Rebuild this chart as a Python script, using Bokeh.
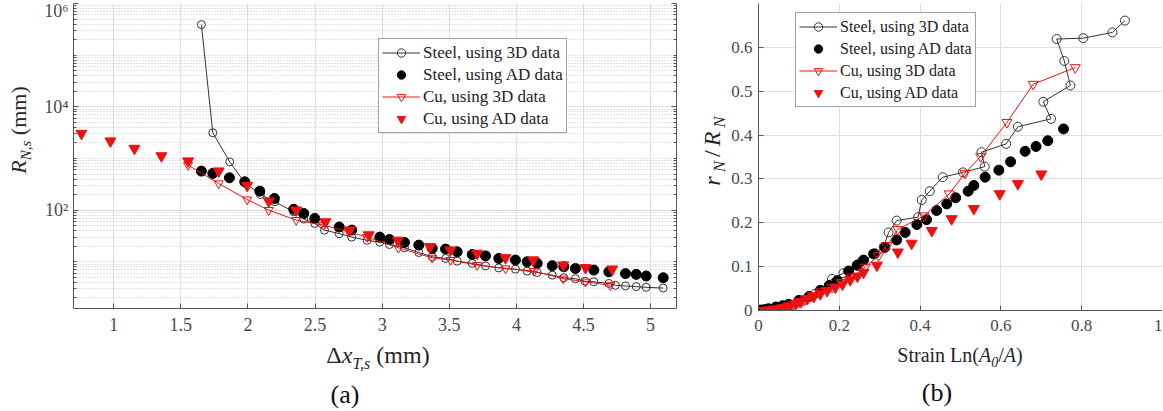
from bokeh.plotting import figure
from bokeh.layouts import row, column
from bokeh.models import (Range1d, FixedTicker, CustomJSTickFormatter, Legend,
                          LegendItem, LogAxis, Div)
from bokeh.embed import file_html
from bokeh.resources import INLINE

# ---------------- data: panel (a) ----------------
a_steel3d_x = [1.653, 1.738, 1.864, 1.976, 2.093, 2.20, 2.341, 2.416, 2.498, 2.57,
               2.68, 2.773, 2.888, 2.982, 3.054, 3.166, 3.273, 3.373, 3.472, 3.559,
               3.671, 3.77, 3.869, 3.993, 4.08, 4.155, 4.267, 4.353, 4.44, 4.51,
               4.577, 4.689, 4.738, 4.813, 4.893, 4.967, 5.094]
a_steel3d_y = [3.9e5, 3140, 860, 338, 200, 145, 93, 67, 55, 41,
               35, 30, 26, 24, 21.6, 18.6, 15.1, 12.5, 11.6, 10.3,
               9.3, 8.3, 7.6, 7.2, 6.6, 6.2, 5.5, 4.9, 4.7, 4.2,
               4.1, 3.8, 3.5, 3.4, 3.3, 3.2, 3.1]

a_steelad_x = [1.653, 1.738, 1.862, 1.976, 2.088, 2.197, 2.341, 2.416, 2.498, 2.68,
               2.773, 2.982, 3.054, 3.166, 3.273, 3.373, 3.472, 3.559, 3.671, 3.77,
               3.869, 3.993, 4.08, 4.155, 4.267, 4.353, 4.44, 4.577, 4.689, 4.813,
               4.893, 4.967, 5.094]
a_steelad_y = [569, 512, 422, 353, 233, 168, 104, 86, 69, 47,
               41, 30, 27, 23.6, 21, 18.1, 17.6, 15.6, 13.8, 13.0,
               11.6, 10.8, 10.0, 9.3, 8.4, 8.0, 7.4, 6.9, 6.4, 5.9,
               5.7, 5.3, 4.9]

a_cu3d_x = [1.554, 1.782, 1.994, 2.155, 2.359, 2.565, 2.751, 2.888, 3.121, 3.373,
            3.509, 3.708, 3.919, 4.13, 4.349, 4.515, 4.701]
a_cu3d_y = [743, 327, 160, 100, 64, 51, 38, 30, 18.6, 11.9,
            10.8, 8.6, 7.4, 6.6, 4.7, 4.1, 3.5]

a_cuad_x = [0.759, 0.975, 1.154, 1.355, 1.554, 1.782, 1.994, 2.155, 2.359, 2.577,
            2.756, 2.9, 3.116, 3.355, 3.509, 3.708, 3.919, 4.125, 4.349, 4.515, 4.714]
a_cuad_y = [3040, 2170, 1560, 1120, 890, 569, 300, 149, 100, 59,
            41, 33, 26, 19.5, 16.8, 14.5, 11.9, 10.8, 8.6, 7.7, 7.2]

a_xticks = [1, 1.5, 2, 2.5, 3, 3.5, 4, 4.5, 5]
a_yticks = [1e2, 1e4, 1e6]

# ---------------- data: panel (b) ----------------
b_steel3d_x = [0.0, 0.02, 0.05, 0.08, 0.11, 0.14, 0.182, 0.21, 0.25, 0.29,
               0.31, 0.322, 0.342, 0.395, 0.404, 0.424, 0.456, 0.506, 0.56, 0.552,
               0.613, 0.642, 0.724, 0.705, 0.772, 0.757, 0.738, 0.804, 0.876, 0.907]
b_steel3d_y = [0.0, 0.0, 0.005, 0.012, 0.022, 0.038, 0.072, 0.085, 0.108, 0.13,
               0.145, 0.178, 0.205, 0.213, 0.252, 0.272, 0.304, 0.315, 0.328, 0.361,
               0.38, 0.419, 0.437, 0.476, 0.513, 0.569, 0.619, 0.621, 0.634, 0.661]

b_steelad_x = [0.0, 0.005, 0.015, 0.025, 0.043, 0.06, 0.075, 0.1, 0.125, 0.153,
               0.175, 0.195, 0.223, 0.244, 0.26, 0.285, 0.313, 0.342, 0.363, 0.392,
               0.416, 0.441, 0.466, 0.488, 0.519, 0.533, 0.561, 0.595, 0.624, 0.66,
               0.687, 0.716, 0.755]
b_steelad_y = [0.0, 0.001, 0.002, 0.004, 0.008, 0.011, 0.014, 0.023, 0.032, 0.046,
               0.057, 0.068, 0.09, 0.103, 0.115, 0.129, 0.144, 0.161, 0.178, 0.196,
               0.207, 0.228, 0.243, 0.257, 0.272, 0.285, 0.304, 0.32, 0.339, 0.363,
               0.374, 0.387, 0.414]

b_cu3d_x = [0.02, 0.034, 0.05, 0.067, 0.085, 0.1, 0.115, 0.133, 0.155, 0.182,
            0.205, 0.231, 0.264, 0.297, 0.318, 0.345, 0.41, 0.472, 0.511, 0.55,
            0.615, 0.68, 0.784]
b_cu3d_y = [0.0, 0.002, 0.004, 0.008, 0.013, 0.019, 0.026, 0.034, 0.043, 0.053,
            0.064, 0.076, 0.099, 0.125, 0.148, 0.185, 0.216, 0.266, 0.313, 0.351,
            0.429, 0.516, 0.554]

b_cuad_x = [0.015, 0.026, 0.04, 0.059, 0.075, 0.092, 0.105, 0.121, 0.137, 0.153,
            0.17, 0.19, 0.208, 0.227, 0.245, 0.26, 0.293, 0.345, 0.379, 0.429,
            0.478, 0.533, 0.597, 0.642, 0.70]
b_cuad_y = [0.0, 0.001, 0.003, 0.006, 0.01, 0.015, 0.02, 0.027, 0.032, 0.038,
            0.045, 0.053, 0.06, 0.07, 0.078, 0.087, 0.103, 0.133, 0.153, 0.182,
            0.209, 0.232, 0.266, 0.289, 0.311]

b_xticks = [0, 0.2, 0.4, 0.6, 0.8, 1.0]
b_yticks = [0, 0.1, 0.2, 0.3, 0.4, 0.5, 0.6]

labels = ["Steel, using 3D data", "Steel, using AD data",
          "Cu, using 3D data", "Cu, using AD data"]

# ---------------- style ----------------
SERIF = "Liberation Serif"
AX = "#555555"
TICKTXT = "#4a4a4a"
GRID = "#dedede"
RED = "#ee1111"
DARK = "#333333"
TOP_H = 340          # height of the plot row
BOT_H = 411 - TOP_H  # height of the caption strip


def style_axis(ax, size):
    ax.axis_line_color = AX
    ax.major_tick_line_color = AX
    ax.minor_tick_line_color = AX
    ax.major_tick_in = 5
    ax.major_tick_out = 0
    ax.minor_tick_in = 3
    ax.minor_tick_out = 0
    ax.major_label_text_font = SERIF
    ax.major_label_text_font_size = f"{size}px"
    ax.major_label_text_color = TICKTXT


def make_legend(p, rends, loc, fsize):
    items = [LegendItem(label=l, renderers=r) for l, r in zip(labels, rends)]
    leg = Legend(items=items, location=loc, padding=3, spacing=1, margin=0,
                 glyph_height=21, label_height=21, glyph_width=38,
                 label_standoff=3, label_text_font=SERIF,
                 label_text_font_size=f"{fsize}px", label_text_color="#222222",
                 border_line_color="#444444", border_line_width=1.5,
                 background_fill_color="white", background_fill_alpha=1.0)
    p.add_layout(leg)


def sub(t, size, shift):
    return (f'<span style="font-size:{size}px;font-style:italic;position:relative;'
            f'top:{shift}px">{t}</span>')


def lab(cx, cy, html, size, rotate=False, w=240, h=34, spacing=0, color="#262626"):
    rot = "transform:rotate(-90deg);transform-origin:50% 50%;" if rotate else ""
    return (f'<div style="position:absolute;left:{cx - w / 2}px;top:{cy - h / 2}px;'
            f'width:{w}px;height:{h}px;line-height:{h}px;text-align:center;'
            f'white-space:nowrap;font-family:\'{SERIF}\';font-size:{size}px;'
            f'letter-spacing:{spacing}px;color:{color};{rot}">{html}</div>')


def box(w, h, inner):
    return (f'<div style="position:relative;width:{w}px;height:{h}px;'
            f'overflow:visible">{inner}</div>')


# ---------------- panel (a) ----------------
p1 = figure(frame_width=603, frame_height=305, min_border_left=35,
            min_border_right=8, min_border_top=2, min_border_bottom=TOP_H - 307,
            y_axis_type="log", x_range=Range1d(0.70, 5.193),
            y_range=Range1d(1.245, 1e6), output_backend="svg",
            toolbar_location=None)
p1.outline_line_color = None

ytick_a = FixedTicker(ticks=a_yticks,
                      minor_ticks=[k * 10 ** e for e in range(0, 6) for k in range(1, 10)
                                   if not (k == 1 and e % 2 == 0)])
p1.yaxis.ticker = ytick_a
p1.yaxis.formatter = CustomJSTickFormatter(code="""
const e = Math.round(Math.log10(tick));
const s = {'0':'\u2070','1':'\u00b9','2':'\u00b2','3':'\u00b3','4':'\u2074','5':'\u2075','6':'\u2076'};
return '10' + s[String(e)];
""")
p1.xaxis.ticker = FixedTicker(ticks=a_xticks)
style_axis(p1.xaxis[0], 18)
style_axis(p1.yaxis[0], 18)
p1.xaxis.minor_tick_line_color = None
p1.yaxis.major_label_standoff = 5
p1.xaxis.major_label_standoff = 9

rax = LogAxis(ticker=ytick_a, formatter=CustomJSTickFormatter(code="return '';"),
              major_label_standoff=0)
style_axis(rax, 10)
p1.add_layout(rax, "right")

p1.xgrid.ticker = FixedTicker(ticks=a_xticks)
p1.ygrid.ticker = ytick_a
for g in (p1.xgrid[0], p1.ygrid[0]):
    g.grid_line_color = GRID
    g.grid_line_width = 1
p1.ygrid.minor_grid_line_color = "#bdbdbd"
p1.ygrid.minor_grid_line_dash = "1 2"
p1.ygrid.minor_grid_line_alpha = 0.8

r1l = p1.line(a_steel3d_x, a_steel3d_y, line_color=DARK, line_width=1)
r1s = p1.scatter(a_steel3d_x, a_steel3d_y, marker="circle", size=8,
                 line_color=DARK, fill_color=None, line_width=1)
r2 = p1.scatter(a_steelad_x, a_steelad_y, marker="circle", size=10,
                fill_color="black", line_color="black")
r3l = p1.line(a_cu3d_x, a_cu3d_y, line_color=RED, line_width=1)
r3s = p1.scatter(a_cu3d_x, a_cu3d_y, marker="inverted_triangle", size=9,
                 line_color=RED, fill_color=None, line_width=1)
r4 = p1.scatter(a_cuad_x, a_cuad_y, marker="inverted_triangle", size=11,
                fill_color=RED, line_color=RED)
make_legend(p1, [[r1l, r1s], [r2], [r3l, r3s], [r4]], (305, 175), 17)

# ---------------- panel (b) ----------------
p2 = figure(frame_width=404, frame_height=307, min_border_left=30,
            min_border_right=0, min_border_top=3, min_border_bottom=TOP_H - 310,
            x_range=Range1d(0, 1.0), y_range=Range1d(0, 0.7),
            output_backend="svg", toolbar_location=None)
p2.outline_line_color = None
p2.xaxis.ticker = FixedTicker(ticks=b_xticks)
p2.yaxis.ticker = FixedTicker(ticks=b_yticks)
style_axis(p2.xaxis[0], 17)
style_axis(p2.yaxis[0], 17)
p2.xaxis.minor_tick_line_color = None
p2.yaxis.minor_tick_line_color = None
p2.yaxis.major_label_standoff = 6
p2.xaxis.major_label_standoff = 9
p2.xgrid.ticker = FixedTicker(ticks=b_xticks)
p2.ygrid.ticker = FixedTicker(ticks=b_yticks)
for g in (p2.xgrid[0], p2.ygrid[0]):
    g.grid_line_color = GRID
    g.grid_line_width = 1

q1l = p2.line(b_steel3d_x, b_steel3d_y, line_color=DARK, line_width=1)
q1s = p2.scatter(b_steel3d_x, b_steel3d_y, marker="circle", size=9,
                 line_color=DARK, fill_color=None, line_width=1)
q2 = p2.scatter(b_steelad_x, b_steelad_y, marker="circle", size=10,
                fill_color="black", line_color="black")
q3l = p2.line(b_cu3d_x, b_cu3d_y, line_color=RED, line_width=1)
q3s = p2.scatter(b_cu3d_x, b_cu3d_y, marker="inverted_triangle", size=10,
                 line_color=RED, fill_color=None, line_width=1)
q4 = p2.scatter(b_cuad_x, b_cuad_y, marker="inverted_triangle", size=11,
                fill_color=RED, line_color=RED)
make_legend(p2, [[q1l, q1s], [q2], [q3l, q3s], [q4]], (37, 203), 16)

# ---------------- text strips (real HTML text) ----------------
ylab_a = "<i>R</i>" + sub("N,s", 15, 5) + " (mm)"
ylab_b = "<i>r</i>" + sub("N", 17, 5) + "/<i>R</i>" + sub("N", 17, 5)
xlab_a = "&Delta;<i>x</i>" + sub("T,s", 16, 6) + " (mm)"
xlab_b = "Strain Ln(<i>A</i>" + sub("0", 14, 5) + "/<i>A</i>)"

d1 = Div(text=box(38, TOP_H, lab(19, 130, ylab_a, 22, rotate=True, w=120, h=30)),
         width=38, height=TOP_H, margin=0)
d2 = Div(text=box(44, TOP_H, lab(28, 149, ylab_b, 24, rotate=True, w=120, h=30,
                                 spacing=4)),
         width=44, height=TOP_H, margin=0)
d3 = Div(text=box(1163, BOT_H,
                  lab(378, 355 - TOP_H, xlab_a, 24, w=200, h=30)
                  + lab(960, 355 - TOP_H, xlab_b, 20, w=220, h=30)
                  + lab(345, 395 - TOP_H, "(a)", 26, w=60, h=32, color="#111111")
                  + lab(937, 393 - TOP_H, "(b)", 26, w=60, h=32, color="#111111")),
         width=1163, height=BOT_H, margin=0)

layout = column(row(d1, p1, d2, p2, spacing=0), d3, spacing=0)
open("out.html", "w").write(file_html(layout, INLINE))
